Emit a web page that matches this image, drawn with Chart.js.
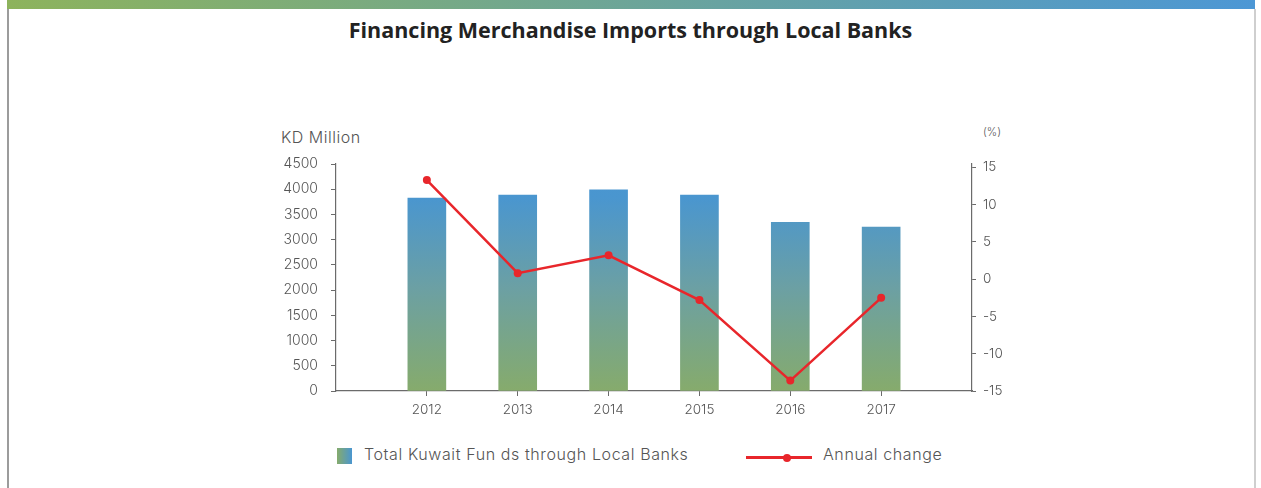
<!DOCTYPE html>
<html>
<head>
<meta charset="utf-8">
<title>Financing Merchandise Imports through Local Banks</title>
<script src="https://cdn.jsdelivr.net/npm/chart.js@4.4.1/dist/chart.umd.min.js"></script>
<style>
  body { margin: 0; width: 1261px; height: 488px; background: #fff; overflow: hidden; position: relative; font-family: Inter, "Open Sans", sans-serif; }
  .topbar { position: absolute; left: 7px; top: 0; width: 1248px; height: 9px; background: linear-gradient(to right, #8db35c, #4c97d5); }
  .frame { position: absolute; left: 7px; top: 9px; width: 1245px; height: 479px; border-left: 2px solid #9c9c9c; border-right: 2px solid #cfcfcf; }
  .title { position: absolute; left: 0; top: 15px; width: 1261px; text-align: center; font-family: "Open Sans", sans-serif; font-weight: 700; font-size: 21.5px; color: #222; }
  .axis-name { position: absolute; color: #555; font-weight: 300; }
  #kd { left: 281px; top: 127px; font-size: 16px; letter-spacing: 0.5px; }
  #pct { left: 983px; top: 125px; font-size: 11px; }
  .legend { position: absolute; top: 444px; font-size: 16px; letter-spacing: 0.6px; color: #555; font-weight: 300; }
  .swatch { position: absolute; left: 337px; top: 448px; width: 15px; height: 16px; background: linear-gradient(to right, #86ab6c, #4a96d0); }
  .lineKey { position: absolute; left: 746px; top: 456px; width: 66px; height: 3px; background: #e8262b; }
  .lineKey::after { content: ""; position: absolute; left: 37px; top: -2.5px; width: 8px; height: 8px; border-radius: 50%; background: #e8262b; }
  canvas { position: absolute; left: 0; top: 0; }
</style>
</head>
<body>
<div class="topbar"></div>
<div class="frame"></div>
<div class="title">Financing Merchandise Imports through Local Banks</div>
<div class="axis-name" id="kd">KD Million</div>
<div class="axis-name" id="pct">(%)</div>
<div class="swatch"></div>
<div class="legend" style="left:364px">Total Kuwait Fun ds through Local Banks</div>
<div class="lineKey"></div>
<div class="legend" style="left:823px">Annual change</div>
<canvas id="chart" width="1261" height="488"></canvas>

<script>
// Years shown on the horizontal axis
const years = [2012, 2013, 2014, 2015, 2016, 2017];
// Total funds through local banks (KD million)
const funds = [3825, 3885, 3990, 3885, 3345, 3250];
// Annual change (%)
const annualChange = [13.3, 0.8, 3.2, -2.8, -13.6, -2.5];
// Tick values for both vertical axes
const leftTicks = [0, 500, 1000, 1500, 2000, 2500, 3000, 3500, 4000, 4500];
const rightTicks = [-15, -10, -5, 0, 5, 10, 15];

const axisGrey = '#6b6b6b';
const labelGrey = '#555';
const red = '#e8262b';

Chart.defaults.font.family = 'Inter, "Open Sans", sans-serif';
Chart.defaults.font.weight = 300;
Chart.defaults.color = labelGrey;

const ctx = document.getElementById('chart').getContext('2d');

// vertical blue-to-green fill for the bars, spread over the plot area
function barFill(context) {
    const area = context.chart.chartArea;
    if (!area) return '#6a9fa6';
    const g = context.chart.ctx.createLinearGradient(0, area.top, 0, area.bottom);
    g.addColorStop(0, '#4795d2');
    g.addColorStop(0.15, '#4a96cf');
    g.addColorStop(0.55, '#6ca0a3');
    g.addColorStop(1, '#86ab6c');
    return g;
}

new Chart(ctx, {
    type: 'bar',
    data: {
        datasets: [
            {
                type: 'line',
                label: 'Annual change',
                data: years.map((y, i) => ({ x: y, y: annualChange[i] })),
                yAxisID: 'y1',
                borderColor: red,
                backgroundColor: red,
                borderWidth: 2.5,
                pointRadius: 4,
                pointBackgroundColor: red,
                pointBorderWidth: 0,
                tension: 0,
                order: 0
            },
            {
                label: 'Total Kuwait Fun ds through Local Banks',
                data: years.map((y, i) => ({ x: y, y: funds[i] })),
                yAxisID: 'y',
                backgroundColor: barFill,
                borderWidth: 0,
                barThickness: 38,
                order: 1
            }
        ]
    },
    options: {
        responsive: false,
        animation: false,
        layout: { padding: { left: 256, right: 229, top: 164, bottom: 57 } },
        plugins: {
            legend: { display: false },
            title: { display: false },
            tooltip: { enabled: false }
        },
        scales: {
            x: {
                type: 'linear',
                offset: false,
                min: years[0] - 1,
                max: years[years.length - 1] + 1,
                afterBuildTicks: s => { s.ticks = years.map(v => ({ value: v })); },
                afterFit: s => { s.height = 40; },
                grid: { offset: false, drawOnChartArea: false, color: axisGrey, tickLength: 5 },
                border: { color: axisGrey, width: 1.2 },
                ticks: { padding: 6, font: { size: 13.5 }, callback: v => String(v) }
            },
            y: {
                position: 'left',
                min: 0,
                max: 4500,
                afterBuildTicks: s => { s.ticks = leftTicks.map(v => ({ value: v })); },
                afterFit: s => { s.width = 80; },
                grid: { drawOnChartArea: false, color: axisGrey, tickLength: 5 },
                border: { color: axisGrey, width: 1.2 },
                ticks: { padding: 13, font: { size: 14 }, callback: v => String(v) }
            },
            y1: {
                position: 'right',
                min: -15,
                max: 15.45,
                afterBuildTicks: s => { s.ticks = rightTicks.map(v => ({ value: v })); },
                afterFit: s => { s.width = 60; },
                grid: { drawOnChartArea: false, color: axisGrey, tickLength: 4 },
                border: { color: axisGrey, width: 1.2 },
                ticks: { padding: 7, font: { size: 13.5 }, callback: v => String(v) }
            }
        }
    }
});
</script>
</body>
</html>
